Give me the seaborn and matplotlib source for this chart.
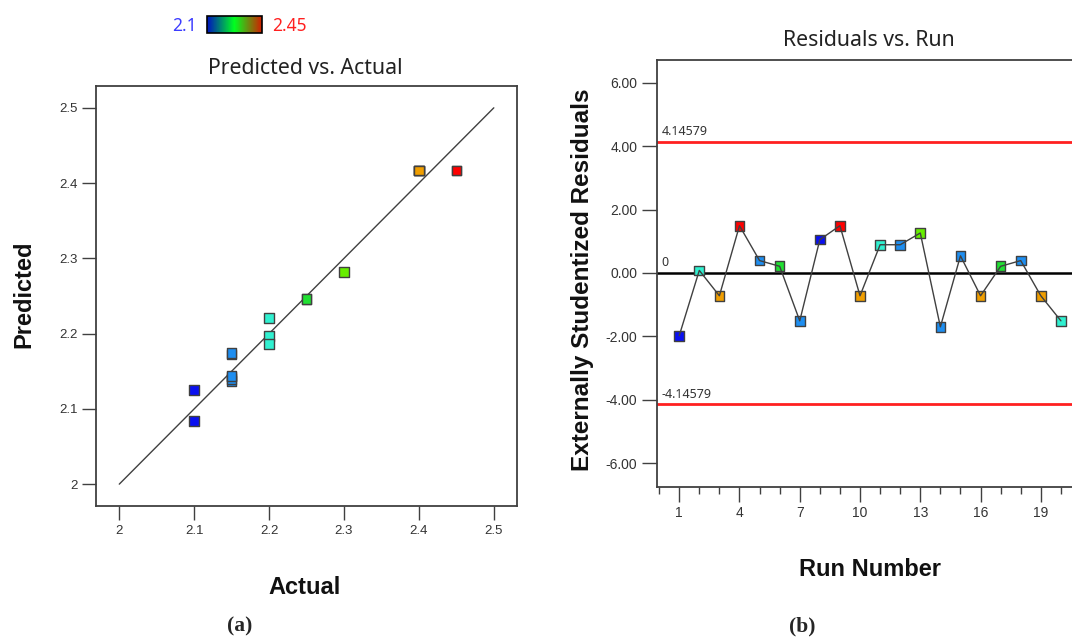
import numpy as np
import pandas as pd
import matplotlib
matplotlib.use("Agg")
import matplotlib.pyplot as plt
import seaborn as sns
from matplotlib.colors import LinearSegmentedColormap, Normalize
from matplotlib.cm import ScalarMappable
from matplotlib.ticker import FixedLocator, MultipleLocator

# data
run = list(range(1, 21))
actual = [2.10, 2.20, 2.40, 2.45, 2.15, 2.25, 2.15, 2.10, 2.45, 2.40,
          2.20, 2.15, 2.30, 2.15, 2.15, 2.40, 2.25, 2.15, 2.40, 2.20]
predicted = [2.125, 2.197, 2.4166, 2.4166, 2.143, 2.246, 2.172, 2.084, 2.4166, 2.4166,
             2.186, 2.137, 2.2815, 2.174, 2.140, 2.4166, 2.246, 2.144, 2.4166, 2.221]
residuals = [-1.98, 0.08, -0.72, 1.49, 0.39, 0.21, -1.51, 1.05, 1.49, -0.72,
             0.89, 0.89, 1.26, -1.70, 0.54, -0.72, 0.21, 0.39, -0.72, -1.51]
limit = 4.14579

pa_ticks = [2.0, 2.1, 2.2, 2.3, 2.4, 2.5]
pa_labels = ['2', '2.1', '2.2', '2.3', '2.4', '2.5']
res_ticks = [-6, -4, -2, 0, 2, 4, 6]
run_ticks = [1, 4, 7, 10, 13, 16, 19]

df = pd.DataFrame({'Run': run, 'Actual': actual, 'Predicted': predicted,
                   'Residual': residuals})

# colour scale of the points (blue -> cyan -> green -> orange -> red)
pt_cmap = LinearSegmentedColormap.from_list('pts', [
    (0.0, '#0a10f0'), (0.143, '#1e90f0'), (0.286, '#30f0d0'),
    (0.429, '#20e030'), (0.571, '#66ee00'), (0.857, '#f0a000'), (1.0, '#ff0000')])
bar_cmap = LinearSegmentedColormap.from_list('bar', ['#0010c0', '#00ff20', '#d02000'])

sns.set_theme(style="ticks")
plt.rcParams['font.family'] = ['Liberation Sans', 'DejaVu Sans']

fig = plt.figure(figsize=(10.72, 6.37), dpi=100)
ax1 = fig.add_axes([0.0896, 0.2057, 0.3927, 0.6593])
ax2 = fig.add_axes([0.6126, 0.236, 0.3958, 0.670])
cax = fig.add_axes([207 / 1072, 1 - 33.3 / 637, 54.7 / 1072, 17.3 / 637])

edge = '#404040'

# (a) predicted vs actual
ax1.plot([2.0, 2.5], [2.0, 2.5], color=edge, lw=1, zorder=2)
sns.scatterplot(data=df, x='Actual', y='Predicted', hue='Actual', palette=pt_cmap,
                hue_norm=(2.1, 2.45), marker='s', s=48, edgecolor=edge, linewidth=1,
                legend=False, ax=ax1, zorder=3)
ax1.set_xlim(1.969, 2.531)
ax1.set_ylim(1.971, 2.529)
ax1.set_xticks(pa_ticks)
ax1.set_xticklabels(pa_labels)
ax1.set_yticks(pa_ticks)
ax1.set_yticklabels(pa_labels)
ax1.set_xlabel('')
ax1.set_ylabel('')
ax1.tick_params(axis='x', direction='out', length=10, width=1, color=edge,
                labelsize=9.5, labelcolor='#333333', pad=4)
ax1.tick_params(axis='y', direction='out', length=10, width=1, color=edge,
                labelsize=9.5, labelcolor='#333333', pad=3)
for sp in ax1.spines.values():
    sp.set_visible(True)
    sp.set_color(edge)
    sp.set_linewidth(1.3)

# (b) residuals vs run
ax2.axhline(limit, color='#ff2020', lw=2, zorder=1)
ax2.axhline(-limit, color='#ff2020', lw=2, zorder=1)
ax2.axhline(0, color='black', lw=1.8, zorder=1)
sns.scatterplot(data=df, x='Run', y='Residual', hue='Actual', palette=pt_cmap,
                hue_norm=(2.1, 2.45), marker='s', s=48, edgecolor=edge, linewidth=1,
                legend=False, ax=ax2, zorder=3)
sns.lineplot(data=df, x='Run', y='Residual', color=edge, lw=1, ax=ax2, zorder=4)
ax2.set_xlim(-0.12, 21.0)
ax2.set_ylim(-6.74, 6.72)
ax2.set_yticks(res_ticks)
ax2.set_yticklabels([f'{v:.2f}' for v in res_ticks])
ax2.xaxis.set_major_locator(FixedLocator(run_ticks))
ax2.xaxis.set_minor_locator(MultipleLocator(1))
ax2.set_xlabel('')
ax2.set_ylabel('')
ax2.tick_params(axis='x', which='major', direction='out', length=11, width=1,
                color=edge, labelsize=10, labelcolor='#333333', pad=3)
ax2.tick_params(axis='x', which='minor', direction='out', length=5, width=1, color=edge)
ax2.tick_params(axis='y', direction='out', length=11, width=1, color=edge,
                labelsize=10, labelcolor='#333333', pad=3)
for name, sp in ax2.spines.items():
    sp.set_color(edge)
    sp.set_linewidth(1.3)
ax2.spines['right'].set_visible(False)
ax2.text(0.12, limit + 0.12, f'{limit:.5f}', fontsize=9, color='#333333',
         family=['Noto Sans', 'DejaVu Sans'], va='bottom', ha='left')
ax2.text(0.12, -limit + 0.12, f'{-limit:.5f}', fontsize=9, color='#333333',
         family=['Noto Sans', 'DejaVu Sans'], va='bottom', ha='left')
ax2.text(0.12, 0.12, '0', fontsize=9, color='#333333',
         family=['Noto Sans', 'DejaVu Sans'], va='bottom', ha='left')

# colour key
cb = fig.colorbar(ScalarMappable(norm=Normalize(2.1, 2.45), cmap=bar_cmap), cax=cax,
                  orientation='horizontal')
cb.set_ticks([])
cb.outline.set_edgecolor('black')
cb.outline.set_linewidth(1.2)
fig.text(184 / 1072, 1 - 26 / 637, '2.1', color='#3c3cff', fontsize=12.5,
         family=['Noto Sans', 'DejaVu Sans'], ha='center', va='center')
fig.text(272 / 1072, 1 - 26 / 637, '2.45', color='#ff2020', fontsize=12.5,
         family=['Noto Sans', 'DejaVu Sans'], ha='left', va='center')

# titles and axis labels
fig.text(305 / 1072, 1 - 68 / 637, 'Predicted vs. Actual', fontsize=15.3,
         family=['Noto Sans', 'DejaVu Sans'], color='#222222', ha='center', va='center')
fig.text(869 / 1072, 1 - 40 / 637, 'Residuals vs. Run', fontsize=15.3,
         family=['Noto Sans', 'DejaVu Sans'], color='#222222', ha='center', va='center')
fig.text(24 / 1072, 1 - 294 / 637, 'Predicted', fontsize=17, fontweight='bold',
         rotation=90, ha='center', va='center', color='#111111')
fig.text(305 / 1072, 1 - 588 / 637, 'Actual', fontsize=17, fontweight='bold',
         ha='center', va='center', color='#111111')
fig.text(582 / 1072, 1 - 280 / 637, 'Externally Studentized Residuals', fontsize=17.5,
         fontweight='bold', rotation=90, ha='center', va='center', color='#111111')
fig.text(870 / 1072, 1 - 570 / 637, 'Run Number', fontsize=17, fontweight='bold',
         ha='center', va='center', color='#111111')
fig.text(240 / 1072, 1 - 626 / 637, '(a)', fontsize=15.5, fontweight='bold',
         family=['Liberation Serif', 'DejaVu Serif'], ha='center', va='center')
fig.text(802 / 1072, 1 - 626 / 637, '(b)', fontsize=15.5, fontweight='bold',
         family=['Liberation Serif', 'DejaVu Serif'], ha='center', va='center')

fig.savefig('out.png', dpi=100)
